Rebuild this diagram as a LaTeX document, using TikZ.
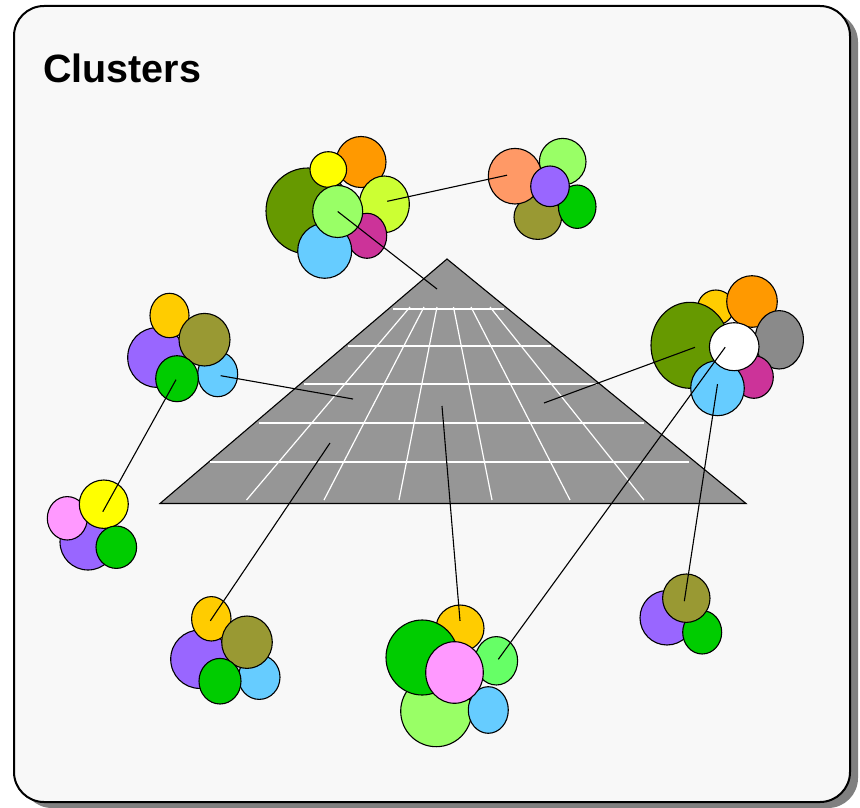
\documentclass[tikz,border=0pt]{standalone}
\usepackage{fontspec}
\setmainfont{Liberation Sans}
\usetikzlibrary{shapes.geometric,calc}

\definecolor{cDarkGreen}{HTML}{669900}
\definecolor{cOrange}{HTML}{FF9900}
\definecolor{cYellow}{HTML}{FFFF00}
\definecolor{cLime}{HTML}{CCFF33}
\definecolor{cLightGreen}{HTML}{99FF66}
\definecolor{cMagenta}{HTML}{CC3399}
\definecolor{cSky}{HTML}{66CCFF}
\definecolor{cSalmon}{HTML}{FF9966}
\definecolor{cOlive}{HTML}{999933}
\definecolor{cGreen}{HTML}{00CC00}
\definecolor{cPurple}{HTML}{9966FF}
\definecolor{cGold}{HTML}{FFCC00}
\definecolor{cGray}{HTML}{8A8A8A}
\definecolor{cPink}{HTML}{FF99FF}
\definecolor{cBright}{HTML}{66FF66}
\definecolor{cPlane}{HTML}{969696}
\definecolor{cPanel}{HTML}{F8F8F8}
\definecolor{cShadow}{HTML}{808080}

\tikzset{
  blob/.style={ellipse, draw=black, line width=1.1pt, inner sep=0pt, outer sep=0pt},
  % #1 = x radius, #2 = y radius (pt)
  rad/.style 2 args={minimum width=#1*2pt, minimum height=#2*2pt},
  link/.style={draw=black, line width=1.1pt},
  gridline/.style={draw=white, line width=1.2pt},
}

\begin{document}
\begin{tikzpicture}[x=1pt,y=-1pt]
\useasboundingbox (0,0) rectangle (860,808);

% panel with drop shadow
\fill[cShadow, rounded corners=30pt] (22,12) rectangle (858,808);
\draw[fill=cPanel, line width=2pt, rounded corners=30pt] (14,6) rectangle (850,802);

\node[anchor=base west, inner sep=0pt, font=\fontsize{39.5}{46}\selectfont\bfseries] (title) at (43,82.7) {Clusters};

% feature plane with perspective grid
\draw[fill=cPlane, line width=1.1pt] (447,259) -- (746,503.5) -- (160,503.5) -- cycle;
\draw[gridline] (393,309) -- (504,309);
\draw[gridline] (348,346) -- (551,346);
\draw[gridline] (304,384) -- (597,384);
\draw[gridline] (259,423) -- (644,423);
\draw[gridline] (210,462) -- (689,462);
\draw[gridline] (410,307) -- (246.5,500);
\draw[gridline] (424,307) -- (324,500);
\draw[gridline] (437,307) -- (399,500);
\draw[gridline] (453.5,307) -- (492,500);
\draw[gridline] (471,307) -- (570,500);
\draw[gridline] (490,307) -- (644,500);

% anchor points on the plane
\coordinate (p1) at (437,289);
\coordinate (p2) at (353,399);
\coordinate (p3) at (330,443);
\coordinate (p4) at (442,406);
\coordinate (p5) at (544,403);

% top cluster
\node[blob, fill=cDarkGreen, rad={42}{43}] (A1) at (308,211) {};
\node[blob, fill=cOrange, rad={25}{25.5}] (A2) at (361,162) {};
\node[blob, fill=cYellow, rad={18.3}{17.8}] (A3) at (328.3,169.5) {};
\node[blob, fill=cLime, rad={25}{28.3}] (A4) at (384.3,204.3) {};
\node[blob, fill=cMagenta, rad={19.7}{22.5}] (A5) at (367,235.8) {};
\node[blob, fill=cSky, rad={27}{27.5}] (A6) at (324.7,250.8) {};
\node[blob, fill=cLightGreen, rad={25}{26}] (A7) at (337.7,211.5) {};

% top-right cluster
\node[blob, fill=cOlive, rad={23.8}{22.2}] (B1) at (537.8,217.2) {};
\node[blob, fill=cGreen, rad={18.8}{21.7}] (B2) at (577.2,206.7) {};
\node[blob, fill=cLightGreen, rad={23.3}{23.3}] (B3) at (562.7,161.7) {};
\node[blob, fill=cSalmon, rad={26.7}{27.8}] (B4) at (515,176.2) {};
\node[blob, fill=cPurple, rad={19.3}{20.3}] (B5) at (550,186.3) {};

% right cluster
\node[blob, fill=cGold, rad={18.2}{17.5}] (C1) at (715.8,307.5) {};
\node[blob, fill=cOrange, rad={25.3}{25.8}] (C2) at (752,301.5) {};
\node[blob, fill=cGray, rad={24.2}{29.2}] (C3) at (779.2,339.8) {};
\node[blob, fill=cDarkGreen, rad={39}{43}] (C4) at (690,345.3) {};
\node[blob, fill=cMagenta, rad={19.5}{21.3}] (C5) at (753.8,377) {};
\node[blob, fill=cSky, rad={26.8}{27.5}] (C6) at (717.5,388.2) {};
\node[blob, fill=white, rad={24.8}{24}] (C7) at (734.2,346.7) {};

% left cluster
\node[blob, fill=cPurple, rad={29}{29.8}] (D1) at (156.7,357.5) {};
\node[blob, fill=cGold, rad={19.5}{22.2}] (D2) at (169.5,315.5) {};
\node[blob, fill=cSky, rad={20}{22.5}] (D3) at (217.7,374.2) {};
\node[blob, fill=cOlive, rad={25.5}{26.3}] (D4) at (204.5,339.7) {};
\node[blob, fill=cGreen, rad={21.3}{23}] (D5) at (177,378.7) {};

% lower-left cluster
\node[blob, fill=cPurple, rad={28}{28}] (E1) at (88,542) {};
\node[blob, fill=cPink, rad={20}{21.7}] (E2) at (67.3,518.3) {};
\node[blob, fill=cYellow, rad={24.5}{24.2}] (E3) at (103.8,504.2) {};
\node[blob, fill=cGreen, rad={20.3}{21.2}] (E4) at (116.3,547.2) {};

% bottom-left cluster
\node[blob, fill=cPurple, rad={29}{29.2}] (F1) at (199.7,659.2) {};
\node[blob, fill=cGold, rad={19.7}{22.2}] (F2) at (211.3,618.8) {};
\node[blob, fill=cSky, rad={20.8}{22.2}] (F3) at (259.2,677.2) {};
\node[blob, fill=cOlive, rad={25.3}{26.2}] (F4) at (247,642.2) {};
\node[blob, fill=cGreen, rad={21}{22.8}] (F5) at (220,681.2) {};

% bottom-middle cluster
\node[blob, fill=cLightGreen, rad={35.5}{35.5}] (G1) at (436.2,711.2) {};
\node[blob, fill=cSky, rad={20}{23.3}] (G2) at (488.3,710) {};
\node[blob, fill=cGold, rad={24}{23.3}] (G3) at (460,628.3) {};
\node[blob, fill=cBright, rad={21.3}{24.2}] (G4) at (496.3,660.8) {};
\node[blob, fill=cGreen, rad={36.2}{37.5}] (G5) at (422.2,657.5) {};
\node[blob, fill=cPink, rad={28.8}{30.8}] (G6) at (454.5,672.5) {};

% bottom-right cluster
\node[blob, fill=cPurple, rad={27}{27.2}] (H1) at (667,617.8) {};
\node[blob, fill=cGreen, rad={19.5}{21.7}] (H2) at (702.2,632.3) {};
\node[blob, fill=cOlive, rad={23.7}{24.2}] (H3) at (686.3,598.2) {};

% links between clusters and the plane
\draw[link] (A7.center) -- (p1);
\draw[link] ($(A4.center)+(3,-3)$) -- ($(B4.center)+(-8,-1)$);
\draw[link] ($(D3.center)+(3,1.5)$) -- (p2);
\draw[link] ($(D5.center)+(-1,1)$) -- ($(E3.center)+(-1,7.5)$);
\draw[link] (p3) -- ($(F2.center)+(-1,2)$);
\draw[link] (p4) -- ($(G3.center)+(0,-7.5)$);
\draw[link] ($(C4.center)+(5,2)$) -- (p5);
\draw[link] ($(C7.center)+(-9,0.5)$) -- ($(G4.center)+(2,-1.5)$);
\draw[link] ($(C6.center)+(0,-4)$) -- ($(H3.center)+(-2,3)$);
\end{tikzpicture}
\end{document}
